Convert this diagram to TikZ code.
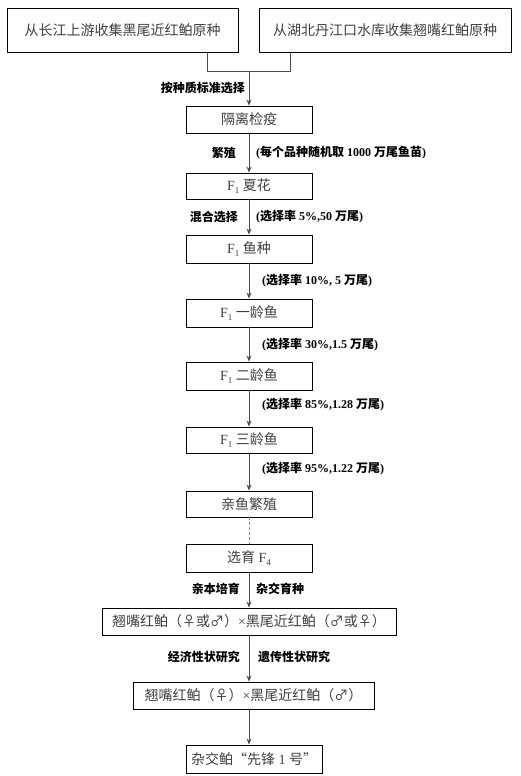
\documentclass[tikz,border=0pt]{standalone}
\usepackage{fontspec}
\setmainfont{Liberation Serif}
\newfontfamily\cjk{Noto Sans CJK SC}
\usetikzlibrary{arrows.meta}
\newcommand\zh[1]{{\cjk #1}}
\newcommand\sub[1]{\raisebox{-2.5pt}{\fontsize{9}{9}\selectfont #1}}
\begin{document}
\begin{tikzpicture}[x=1pt,y=-1pt,
  box/.style={draw=black,line width=0.9pt,inner sep=0pt,text=black!75,font=\fontsize{14}{14}\selectfont},
  lab/.style={inner sep=0pt,font=\fontsize{12}{12}\selectfont\bfseries},
  conn/.style={draw=black!70,line width=0.8pt},
  arr/.style={conn,-{Stealth[length=6pt,width=5pt]}}]
\useasboundingbox (0,0) rectangle (520,776);
\node[box,minimum width=231pt,minimum height=44pt] (L) at (122.5,30) {\zh{从长江上游收集黑尾近红鲌原种}};
\node[box,minimum width=252pt,minimum height=44pt] (R) at (385,30) {\zh{从湖北丹江口水库收集翘嘴红鲌原种}};
\coordinate (jl) at (207,71);
\coordinate (jr) at (290,71);
\coordinate (jm) at (249,71);
\node[box,minimum width=126pt,minimum height=27pt] (B1) at (249,119.5) {\zh{隔离检疫}};
\node[box,minimum width=126pt,minimum height=26pt] (B2) at (249,186) {F\sub{1} \zh{夏花}};
\node[box,minimum width=126pt,minimum height=28pt] (B3) at (249,249) {F\sub{1} \zh{鱼种}};
\node[box,minimum width=126pt,minimum height=28pt] (B4) at (249,313) {F\sub{1} \zh{一龄鱼}};
\node[box,minimum width=126pt,minimum height=28pt] (B5) at (249,376) {F\sub{1} \zh{二龄鱼}};
\node[box,minimum width=126pt,minimum height=26pt] (B6) at (249,440) {F\sub{1} \zh{三龄鱼}};
\node[box,minimum width=126pt,minimum height=26pt] (B7) at (249,504) {\zh{亲鱼繁殖}};
\node[box,minimum width=126pt,minimum height=28pt] (B8) at (249,558) {\zh{选育} F\sub{4}};
\node[box,minimum width=294pt,minimum height=27pt] (B9) at (249,621.5) {\zh{翘嘴红鲌（♀或♂）}×\zh{黑尾近红鲌（♂或♀）}};
\node[box,minimum width=241pt,minimum height=27pt] (B10) at (253.5,695.5) {\zh{翘嘴红鲌（♀）}×\zh{黑尾近红鲌（♂）}};
\node[box,minimum width=136pt,minimum height=28pt] (B11) at (254,759) {\zh{杂交鲌“先锋} 1 \zh{号”}};
% connectors
\draw[conn] (L.south -| jl) -- (jl) -- (jr) -- (R.south -| jr);
\draw[arr] (jm) -- (B1.north);
\draw[arr] (B1) -- (B2);
\draw[arr] (B2) -- (B3);
\draw[arr] (B3) -- (B4);
\draw[arr] (B4) -- (B5);
\draw[arr] (B5) -- (B6);
\draw[arr] (B6) -- (B7);
\draw[conn,dashed,dash pattern=on 3pt off 2pt,draw=black!45] (B7) -- (B8);
\draw[arr] (B8) -- (B9);
\draw[arr] (B9.south -| B8) -- (B10.north -| B8);
\draw[arr] (B10.south -| B8) -- (B11.north -| B8);
% labels
\node[lab,anchor=east] (l0) at (245,88) {\zh{按种质标准选择}};
\node[lab,anchor=east] (l1a) at (236,153) {\zh{繁殖}};
\node[lab,anchor=west] (l1b) at (256,153) {(\zh{每个品种随机取} 1000 \zh{万尾鱼苗})};
\node[lab,anchor=east] (l2a) at (238,217) {\zh{混合选择}};
\node[lab,anchor=west] (l2b) at (256,217) {(\zh{选择率} 5\%,50 \zh{万尾})};
\node[lab,anchor=west] (l3) at (262,281) {(\zh{选择率} 10\%, 5 \zh{万尾})};
\node[lab,anchor=west] (l4) at (262,345) {(\zh{选择率} 30\%,1.5 \zh{万尾})};
\node[lab,anchor=west] (l5) at (262,405) {(\zh{选择率} 85\%,1.28 \zh{万尾})};
\node[lab,anchor=west] (l6) at (262,469) {(\zh{选择率} 95\%,1.22 \zh{万尾})};
\node[lab,anchor=east] (l7a) at (240,589) {\zh{亲本培育}};
\node[lab,anchor=west] (l7b) at (256,589) {\zh{杂交育种}};
\node[lab,anchor=east] (l8a) at (240,657) {\zh{经济性状研究}};
\node[lab,anchor=west] (l8b) at (258,657) {\zh{遗传性状研究}};
\end{tikzpicture}
\end{document}
